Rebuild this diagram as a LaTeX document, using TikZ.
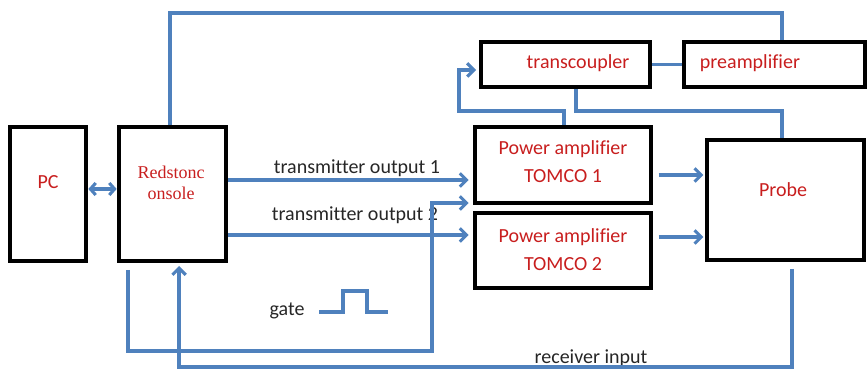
\documentclass[tikz,border=0pt]{standalone}
\usepackage{fontspec}
\setmainfont{Carlito}[Ligatures=CommonOff]
\newfontfamily\consolefont{Liberation Serif}
\usetikzlibrary{arrows.meta, positioning}
\definecolor{WireBlue}{RGB}{79,129,189}
\definecolor{TagRed}{RGB}{200,30,30}

\begin{document}
\begin{tikzpicture}[x=0.75pt, y=-0.75pt,
    box/.style={draw, line width=3.5pt, inner sep=0pt},
    tag/.style={font=\fontsize{15}{21}\selectfont, text=TagRed, align=center},
    lbl/.style={font=\fontsize{15}{18}\selectfont, text=black!85},
    wire/.style={WireBlue, line width=2.3pt},
    arr/.style={wire, -{Straight Barb[length=5pt, width=10pt]}}
  ]
  \useasboundingbox (0,0) rectangle (868,370);

  % boxes
  \node[box, minimum width=57pt, minimum height=100.5pt]    (pc)      at (48,194)    {};
  \node[box, minimum width=80.25pt, minimum height=100.5pt] (console) at (172.5,194) {};
  \node[box, minimum width=126.75pt, minimum height=33.75pt] (tc)     at (565.5,64.5) {};
  \node[box, minimum width=135.75pt, minimum height=33.75pt] (pre)    at (774.5,64.5) {};
  \node[box, minimum width=132pt, minimum height=57pt]      (pa1)     at (563,165)   {};
  \node[box, minimum width=132pt, minimum height=56.25pt]   (pa2)     at (563,250.5) {};
  \node[box, minimum width=117.75pt, minimum height=90pt]   (probe)   at (785.5,200) {};

  % box texts
  \node[tag] (pc-t) at (48,182) {PC};
  \node[tag, font=\consolefont\fontsize{13.5}{16}\selectfont] (console-t) at (171,183) {Redstonc\\onsole};
  \node[tag] (tc-t)    at (578,63)    {transcoupler};
  \node[tag] (pre-t)   at (750,63)    {preamplifier};
  \node[tag] (pa1-t)   at (563,162)   {Power amplifier\\TOMCO 1};
  \node[tag] (pa2-t)   at (563,249.5) {Power amplifier\\TOMCO 2};
  \node[tag] (probe-t) at (783,190)   {Probe};

  % labels
  \node[lbl] (tx1-l)  at (357,168) {transmitter output 1};
  \node[lbl] (tx2-l)  at (355,215) {transmitter output 2};
  \node[lbl] (gate-l) at (287,311) {gate};
  \node[lbl] (rx-l)   at (591,358) {receiver input};

  % bend points
  \coordinate (dbl)   at (100,189);
  \coordinate (topl)  at (170,13);
  \coordinate (topr)  at (782,13);
  \coordinate (tx1)   at (350,180);
  \coordinate (tx2)   at (350,235);
  \coordinate (gl)    at (128,351);
  \coordinate (gr)    at (432,351);
  \coordinate (gin)   at (432,203);
  \coordinate (rxr)   at (792,367);
  \coordinate (rxl)   at (179,367);
  \coordinate (pp1)   at (680,175);
  \coordinate (pp2)   at (680,237);
  \coordinate (loopa) at (564,111);
  \coordinate (loopb) at (459,111);
  \coordinate (loopc) at (459,70);
  \coordinate (tcd)   at (576,111);
  \coordinate (tcr)   at (782,111);

  % connectors
  \draw[wire, {Straight Barb[length=4pt, width=9pt]}-{Straight Barb[length=4pt, width=9pt]}]
    (pc.east |- dbl) -- (console.west |- dbl);
  \draw[wire] (console.north -| topl) |- (topr) -- (pre.north -| topr);
  \draw[arr, shorten >=3pt] (console.east |- tx1) -- (pa1.west |- tx1);
  \draw[arr, shorten >=3pt] (console.east |- tx2) -- (pa2.west |- tx2);
  \draw[arr, shorten <=5pt, shorten >=3pt] (console.south -| gl) |- (gr) |- (pa1.west |- gin);
  \draw[arr, shorten <=5pt, shorten >=2pt] (probe.south -| rxr) |- (rxl) -- (console.south -| rxl);
  \draw[arr, shorten <=4pt, shorten >=1pt] (pa1.east |- pp1) -- (probe.west |- pp1);
  \draw[arr, shorten <=4pt, shorten >=1pt] (pa2.east |- pp2) -- (probe.west |- pp2);
  \draw[arr, shorten >=2pt] (pa1.north -| loopa) |- (loopb) |- (tc.west |- loopc);
  \draw[wire] (tc.south -| tcd) |- (tcr) -- (probe.north -| tcr);
  \draw[wire] (tc.east) -- (pre.west);

  % gate pulse
  \draw[wire] (319,312) -- (343,312) -- (343,291) -- (367,291) -- (367,312) -- (388,312);
\end{tikzpicture}
\end{document}
